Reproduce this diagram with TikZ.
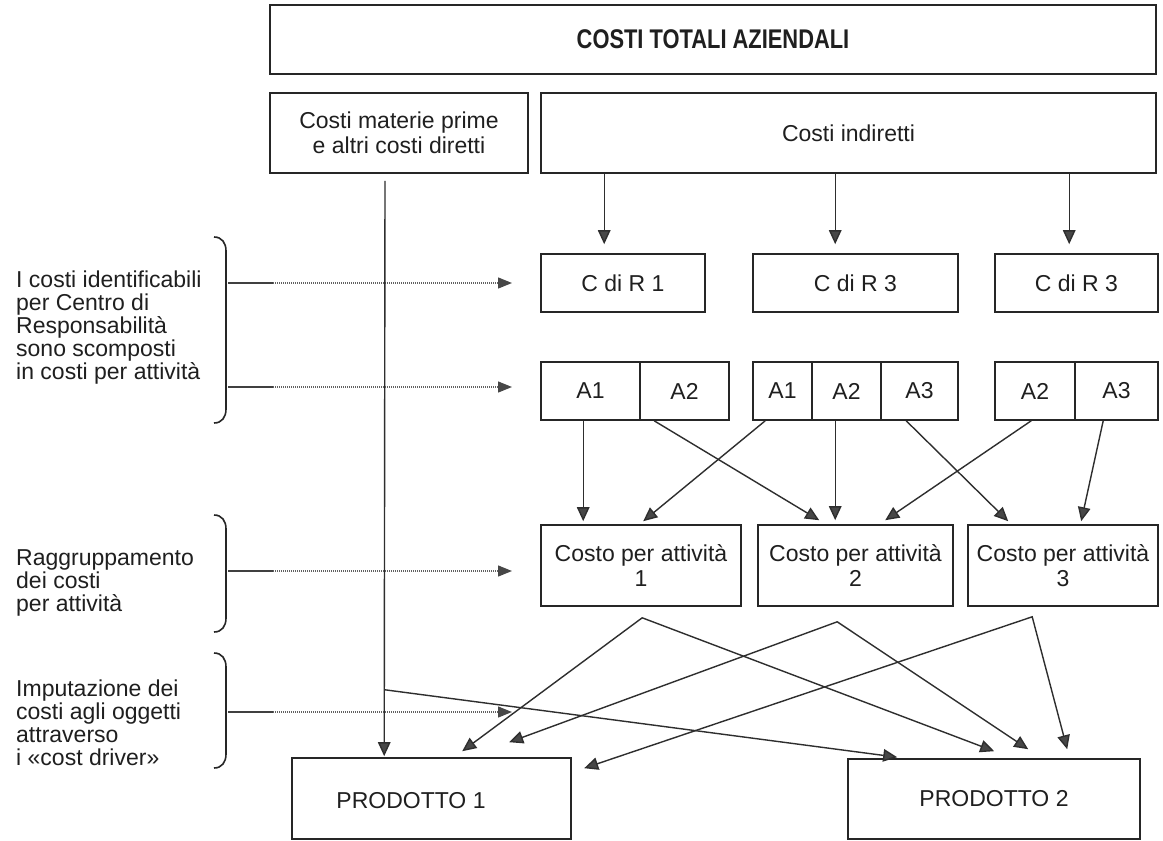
\documentclass[tikz,border=0pt]{standalone}
\usepackage{fontspec}
\setmainfont{Liberation Sans}
\newfontfamily\headfont{Liberation Sans}[FakeStretch=0.81]
\usetikzlibrary{arrows.meta,calc}
\begin{document}
\begin{tikzpicture}[x=1pt,y=-1pt,
  box/.style={draw=black!85, line width=1.6pt, rectangle, inner sep=0pt,
    align=center, text=black!88, font=\fontsize{23}{25}\selectfont},
  cell/.style={box, minimum height=58pt},
  conn/.style={draw=black!82, line width=1.4pt,
    -{Triangle[length=14pt,width=12.5pt,fill=black!72]}},
  conntwo/.style={draw=black!82, line width=1.4pt, line join=miter,
    {Triangle[length=14pt,width=12.5pt,fill=black!72]}-{Triangle[length=14pt,width=12.5pt,fill=black!72]}},
  guide/.style={draw=black!62, line width=1.3pt, dash pattern=on 1.2pt off 0.8pt,
    -{Triangle[length=14pt,width=11pt,color=black!72,fill=black!72]}},
  guidelead/.style={draw=black!75, line width=1.4pt},
  bracket/.style={draw=black!85, line width=1.6pt},
  note/.style={inner sep=0pt, align=left, anchor=north west, text=black!88,
    font=\fontsize{23}{23}\selectfont},
]
\fill[white] (0,0) rectangle (1163,841);
\useasboundingbox (0,0) rectangle (1163,841);

% top level boxes
\node[box, minimum width=886pt, minimum height=69pt,
  font=\headfont\bfseries\fontsize{27}{28}\selectfont] (tot) at (713,39.5) {COSTI TOTALI AZIENDALI};
\node[box, minimum width=258pt, minimum height=80pt] (mat) at (399,133)
  {Costi materie prime\\e altri costi diretti};
\node[box, minimum width=615pt, minimum height=80pt] (ind) at (848.5,133) {Costi indiretti};

% responsibility centres
\node[cell, minimum width=164pt] (r1) at (623,283) {C di R 1};
\node[cell, minimum width=205pt] (r2) at (855.5,283) {C di R 3};
\node[cell, minimum width=163pt] (r3) at (1076.5,283) {C di R 3};

% activities per centre
\node[cell, minimum width=99pt] (a11) at (590.5,391) {A1};
\node[cell, minimum width=89pt] (a12) at (684.5,391) {A2};
\node[cell, minimum width=59pt] (a21) at (782.5,391) {A1};
\node[cell, minimum width=69pt] (a22) at (846.5,391) {A2};
\node[cell, minimum width=77pt] (a23) at (919.5,391) {A3};
\node[cell, minimum width=80pt] (a32) at (1035,391) {A2};
\node[cell, minimum width=83pt] (a33) at (1116.5,391) {A3};

% activity cost pools
\node[box, minimum width=200pt, minimum height=81pt] (k1) at (641,565.5) {Costo per attività\\1};
\node[box, minimum width=195pt, minimum height=81pt] (k2) at (855.5,565.5) {Costo per attività\\2};
\node[box, minimum width=190pt, minimum height=81pt] (k3) at (1063,565.5) {Costo per attività\\3};

% products
\node[box, minimum width=279pt, minimum height=81pt] (p1) at (431.5,798.5) {};
\node[inner sep=0pt, text=black!88, font=\fontsize{23}{25}\selectfont] (p1t) at (411,801) {PRODOTTO 1};
\node[box, minimum width=292pt, minimum height=80pt] (p2) at (994,799) {PRODOTTO 2};

% side notes
\node[note] (n1) at (16,271) {I costi identificabili\\per Centro di\\Responsabilità\\sono scomposti\\in costi per attività};
\node[note] (n2) at (16,549) {Raggruppamento\\dei costi\\per attività};
\node[note] (n3) at (16,680) {Imputazione dei\\costi agli oggetti\\attraverso\\i «cost driver»};

% brackets
\draw[bracket] (214,237) .. controls (222,237) and (226,243) .. (226,251) -- (226,409)
  .. controls (226,417) and (222,423) .. (214,423);
\draw[bracket] (214,515) .. controls (222,515) and (226,521) .. (226,529) -- (226,618)
  .. controls (226,626) and (222,632) .. (214,632);
\draw[bracket] (214,653) .. controls (222,653) and (226,659) .. (226,667) -- (226,754)
  .. controls (226,762) and (222,768) .. (214,768);

% guide arrows from the notes
\foreach \gy [count=\i] in {283,387,571,712} {
  \coordinate (g\i s) at (228,\gy);
  \coordinate (g\i m) at (273,\gy);
  \coordinate (g\i e) at (512,\gy);
  \draw[guidelead] (g\i s) -- (g\i m);
  \draw[guide] (g\i m) -- (g\i e);
}

% indirect costs to responsibility centres
\draw[conn] ($(ind.south west)+(64,0)$) -- ($(r1.north west)+(64,-9)$);
\draw[conn] ($(ind.south west)+(295,0)$) -- ($(r2.north west)+(83,-9)$);
\draw[conn] ($(ind.south west)+(529,0)$) -- ($(r3.north west)+(75,-9)$);

% activities to cost pools
\draw[conn] ($(a11.south west)+(43,0)$) -- ($(k1.north west)+(43,-3)$);
\draw[conn] ($(a12.south west)+(15,0)$) -- ($(k2.north west)+(62,-4)$);
\draw[conn] ($(a21.south west)+(13,0)$) -- ($(k1.north west)+(103,-3)$);
\draw[conn] ($(a22.south west)+(24,0)$) -- ($(k2.north west)+(78,-4)$);
\draw[conn] ($(a23.south west)+(26,0)$) -- ($(k3.north west)+(41,-3)$);
\draw[conn] ($(a32.south west)+(37,0)$) -- ($(k2.north west)+(128,-4)$);
\draw[conn] ($(a33.south west)+(29,0)$) -- ($(k3.north west)+(114,-3)$);

% direct costs straight to the products
\coordinate (dtop) at ($(mat.south)+(-14,7)$);
\coordinate (br) at ($(mat.south)+(-14,516)$);
\draw[conn] (dtop) -- ($(p1.north west)+(93,-1)$);
\draw[conn] (br) -- ($(p2.north west)+(50,-1)$);

% cost pools to products via cost drivers
\coordinate (o1) at ($(k1.south west)+(102,11)$);
\coordinate (o2) at ($(k2.south west)+(80,15)$);
\coordinate (o3) at ($(k3.south west)+(65,10)$);
\draw[conntwo] ($(p1.north west)+(171,-6)$) -- (o1) -- ($(p2.north west)+(147,-7)$);
\draw[conntwo] ($(p1.north west)+(218,-15)$) -- (o2) -- ($(p2.north west)+(181,-9)$);
\draw[conntwo] ($(p1.north west)+(293,11)$) -- (o3) -- ($(p2.north west)+(220,-9)$);
\end{tikzpicture}
\end{document}
